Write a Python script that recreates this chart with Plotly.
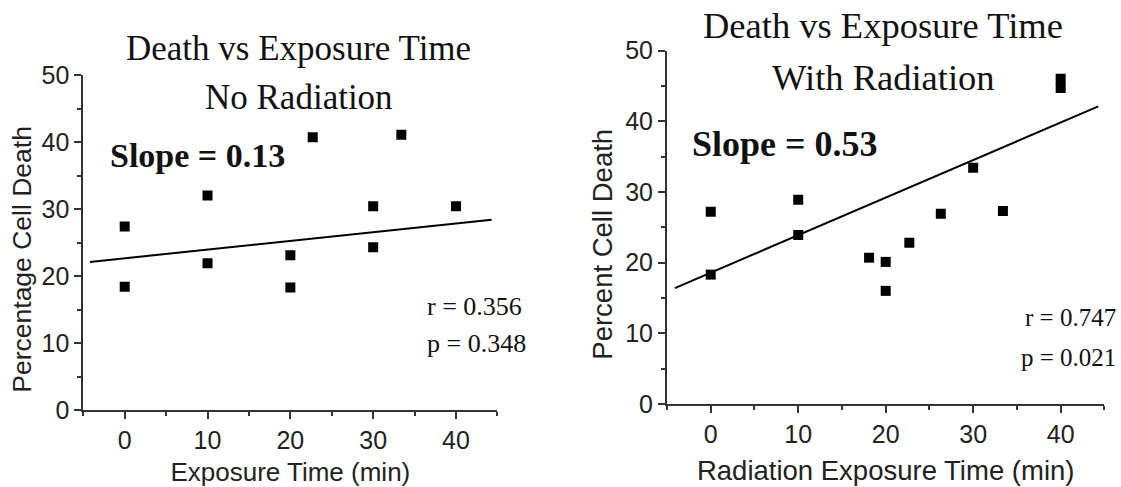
import plotly.graph_objects as go

# ---- data ----
no_rad_time = [0, 0, 10, 10, 20, 20, 22.7, 30, 30, 33.4, 40]
no_rad_death = [27.4, 18.4, 32.0, 21.9, 23.1, 18.3, 40.7, 30.4, 24.3, 41.1, 30.4]
no_rad_fit_x = [-4.2, 44.3]
no_rad_fit_y = [22.1, 28.4]

rad_time = [0, 0, 10, 10, 18.1, 20, 20, 22.7, 26.3, 30, 33.4, 40, 40]
rad_death = [27.2, 18.3, 28.9, 23.9, 20.7, 20.1, 16.0, 22.8, 26.9, 33.4, 27.3, 46.0, 44.7]
rad_fit_x = [-4.1, 44.3]
rad_fit_y = [16.4, 42.1]

x_ticks = [0, 10, 20, 30, 40]
y_ticks = [0, 10, 20, 30, 40, 50]

W, H = 1121, 487
SANS = "Liberation Sans, Arial, sans-serif"
SERIF = "Liberation Serif, Times New Roman, serif"
AX = "#333"

def px(x):
    return x / W

def py(y):
    return 1 - y / H

fig = go.Figure()

marker = dict(symbol="square", size=10, color="black", line=dict(width=0))
line = dict(color="black", width=2)

fig.add_trace(go.Scatter(x=no_rad_fit_x, y=no_rad_fit_y, mode="lines", line=line,
                         xaxis="x", yaxis="y", showlegend=False, hoverinfo="skip"))
fig.add_trace(go.Scatter(x=no_rad_time, y=no_rad_death, mode="markers", marker=marker,
                         xaxis="x", yaxis="y", showlegend=False))
fig.add_trace(go.Scatter(x=rad_fit_x, y=rad_fit_y, mode="lines", line=line,
                         xaxis="x2", yaxis="y2", showlegend=False, hoverinfo="skip"))
fig.add_trace(go.Scatter(x=rad_time, y=rad_death, mode="markers", marker=marker,
                         xaxis="x2", yaxis="y2", showlegend=False))

def axis_cfg(domain, anchor, rng, vals, title=None, size=26, standoff=10):
    cfg = dict(domain=domain, anchor=anchor, range=rng, tickvals=vals, automargin=False,
               showgrid=False, zeroline=False, showline=True, linecolor=AX, linewidth=2,
               ticks="outside", ticklen=7, tickwidth=2, tickcolor=AX,
               minor=dict(dtick=5, tick0=0, ticks="outside", ticklen=4, tickwidth=2, tickcolor=AX),
               tickfont=dict(family=SANS, size=25, color="#222"),
               fixedrange=True)
    if title:
        cfg["title"] = dict(text=title, font=dict(family=SANS, size=size, color="#222"), standoff=standoff)
    return cfg

fig.update_layout(
    template="none",
    width=W, height=H, margin=dict(l=0, r=0, t=0, b=0),
    paper_bgcolor="white", plot_bgcolor="white",
    xaxis=axis_cfg([px(83.3), px(497.4)], "y", [-5, 45], x_ticks, "Exposure Time (min)", 26, 15),
    yaxis=axis_cfg([py(410), py(75)], "x", [0, 50], y_ticks),
    xaxis2=axis_cfg([px(667), px(1104.4)], "y2", [-5, 45], x_ticks, "Radiation Exposure Time (min)", 27.5, 14),
    yaxis2=axis_cfg([py(404), py(50.5)], "x2", [0, 50], y_ticks),
)

def note(text, x, y, size, bold=False, xanchor="center", family=SERIF, angle=0, color="#111"):
    fig.add_annotation(text=f"<b>{text}</b>" if bold else text, x=px(x), y=py(y),
                       xref="paper", yref="paper", showarrow=False, xanchor=xanchor, yanchor="middle",
                       textangle=angle, font=dict(family=family, size=size, color=color))

# rotated y-axis titles
note("Percentage Cell Death", 21.7, 259, 26.5, family=SANS, angle=-90, color="#222")
note("Percent Cell Death", 601.7, 244, 27.5, family=SANS, angle=-90, color="#222")

note("Death vs Exposure Time", 298.7, 48, 35)
note("No Radiation", 298.7, 97, 35)
note("Death vs Exposure Time", 883, 25, 36.5)
note("With Radiation", 883, 77, 36.5)
note("Slope = 0.13", 197, 155, 34, bold=True)
note("Slope = 0.53", 784.5, 144, 36, bold=True)
note("r = 0.356", 424.6, 306, 26, xanchor="left")
note("p = 0.348", 424.6, 343, 26, xanchor="left")
note("r = 0.747", 1118, 317, 25, xanchor="right")
note("p = 0.021", 1118, 357, 25, xanchor="right")

fig.write_html("out.html", config={"displayModeBar": False},
               post_script="document.body.style.margin='0';document.body.style.overflow='hidden';")
